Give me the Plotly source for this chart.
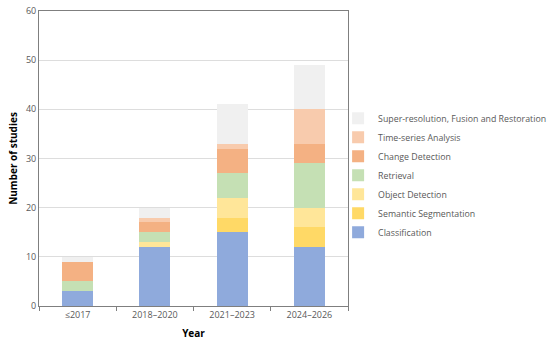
import plotly.graph_objects as go

years = ["≤2017", "2018–2020", "2021–2023", "2024–2026"]
classification = [3, 12, 15, 12]
semantic_segmentation = [0, 0, 3, 4]
object_detection = [0, 1, 4, 4]
retrieval = [2, 2, 5, 9]
change_detection = [4, 2, 5, 4]
time_series = [0, 1, 1, 7]
super_resolution = [1, 2, 8, 9]

series = [
    ("Classification", classification, "#8FAADC"),
    ("Semantic Segmentation", semantic_segmentation, "#FFD966"),
    ("Object Detection", object_detection, "#FFE699"),
    ("Retrieval", retrieval, "#C5E0B4"),
    ("Change Detection", change_detection, "#F4B183"),
    ("Time-series Analysis", time_series, "#F8CBAD"),
    ("Super-resolution, Fusion and Restoration", super_resolution, "#F0F0F0"),
]

font_family = "Open Sans, Noto Sans, DejaVu Sans, sans-serif"

fig = go.Figure()
for name, vals, col in series:
    fig.add_trace(go.Bar(x=years, y=vals, name=name, marker=dict(color=col, line=dict(width=0)), width=0.4))

fig.update_layout(
    barmode="stack",
    width=550, height=344,
    margin=dict(l=39, r=202, t=11, b=38, autoexpand=False),
    paper_bgcolor="white", plot_bgcolor="white",
    font=dict(family=font_family, size=9, color="#595959"),
    legend=dict(
        traceorder="reversed",
        x=0.968, xanchor="left", y=0.443, yanchor="middle",
        font=dict(size=8.8, color="#595959"),
        itemwidth=30, tracegroupgap=0,
        bgcolor="rgba(0,0,0,0)",
    ),
    xaxis=dict(
        title=dict(text="<b>Year</b>", font=dict(size=10, color="#000000"), standoff=10),
        showline=True, linecolor="#7F7F7F", linewidth=1, mirror=True,
        ticks="outside", tickson="boundaries", ticklen=4, tickcolor="#7F7F7F",
        tickfont=dict(size=9, color="#595959"),
        automargin=False,
    ),
    yaxis=dict(
        title=dict(text="<b>Number of studies</b>", font=dict(size=10, color="#000000"), standoff=6),
        range=[0, 60], dtick=10,
        showline=True, linecolor="#7F7F7F", linewidth=1, mirror=True,
        gridcolor="#DDDDDD", gridwidth=1, zeroline=False,
        tickfont=dict(size=9, color="#595959"),
        automargin=False,
    ),
)

fig.write_html("out.html", config={"displayModeBar": False},
               post_script="document.body.style.margin='0px';")
